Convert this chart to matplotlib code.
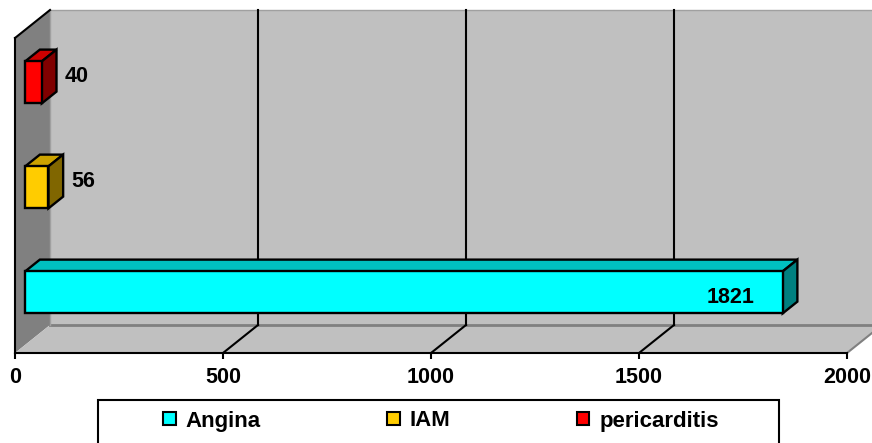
import matplotlib.pyplot as plt
from matplotlib.patches import Patch, Rectangle

plt.rcParams['font.family'] = ['Liberation Sans', 'DejaVu Sans']

categories = ['Angina', 'IAM', 'pericarditis']
values = [1821, 56, 40]
front_colors = ['#00FFFF', '#FFCC00', '#FF0000']
top_colors = ['#00C0C0', '#CCA300', '#CC0000']
side_colors = ['#008080', '#806600', '#800000']
xticks = [0, 500, 1000, 1500, 2000]

fig = plt.figure(figsize=(8.72, 4.43), dpi=100)
ax = fig.add_axes([15 / 872, 90 / 443, 832 / 872, 315 / 443])
ax.set_xlim(0, 2000)
ax.set_ylim(0, 3)
ax.patch.set_visible(False)

# pixel -> data scale, used for the fake 3d depth
xpx = 2000 / 832
ypx = 3 / 315
dx, dy = 35 * xpx, 28 * ypx
xmax = 2000

# walls and floor
ax.fill([0, dx, dx, 0], [0, dy, 3 + dy, 3], color='#808080', lw=0, clip_on=False, zorder=0)
ax.fill([dx, xmax + dx + 100, xmax + dx + 100, dx], [dy, dy, 3 + dy, 3 + dy],
        color='#C0C0C0', lw=0, clip_on=False, zorder=0)
ax.fill([0, xmax, xmax + dx, dx], [0, 0, dy, dy], color='#C0C0C0', lw=0, clip_on=False, zorder=0)
ax.plot([dx, xmax + dx + 100], [dy, dy], color='#808080', lw=2, clip_on=False, zorder=1)
ax.plot([dx, dx], [dy, 3 + dy], color='#A0A0A0', lw=1, clip_on=False, zorder=1)
ax.plot([dx, xmax + dx + 100], [3 + dy, 3 + dy], color='#A0A0A0', lw=1, clip_on=False, zorder=1)
ax.plot([0, dx], [3, 3 + dy], color='black', lw=1.5, clip_on=False, zorder=2)

# gridlines on back wall and floor
for v in xticks[1:]:
    ax.plot([v + dx, v + dx], [dy, 3 + dy], color='black', lw=1.5, clip_on=False, zorder=1)
    c = '#808080' if v == xmax else 'black'
    ax.plot([v, v + dx], [0, dy], color=c, lw=1.5, clip_on=False, zorder=1)

# bars
f0, f1 = 0.29, 0.71
h = 0.2
for i, (v, fc, tc, sc) in enumerate(zip(values, front_colors, top_colors, side_colors)):
    c = i + 0.5
    x0, y0 = f0 * dx, c - h + f0 * dy
    x1, y1 = v + f0 * dx, c + h + f0 * dy
    bx, by = (f1 - f0) * dx, (f1 - f0) * dy
    kw = dict(ec='black', lw=1.7, clip_on=False, zorder=3)
    ax.fill([x0, x1, x1 + bx, x0 + bx], [y1, y1, y1 + by, y1 + by], fc=tc, **kw)
    ax.fill([x1, x1 + bx, x1 + bx, x1], [y0, y0 + by, y1 + by, y1], fc=sc, **kw)
    ax.fill([x0, x1, x1, x0], [y0, y0, y1, y1], fc=fc, **kw)
    if v > 500:
        ax.text(x1 - 28 * xpx, c + f0 * dy - 0.05, str(v), ha='right', va='center',
                fontsize=15.5, fontweight='bold', zorder=4)
    else:
        ax.text(x1 + 35 * xpx, c + 0.5 * dy, str(v), ha='center', va='center',
                fontsize=15.5, fontweight='bold', zorder=4)

# axes
for s in ['top', 'right']:
    ax.spines[s].set_visible(False)
for s in ['bottom', 'left']:
    ax.spines[s].set_color('black')
    ax.spines[s].set_linewidth(1.5)
    ax.spines[s].set_zorder(2)
ax.set_yticks([])
ax.set_xticks(xticks)
ax.set_xticklabels([str(t) for t in xticks], fontsize=15.5, fontweight='bold')
ax.tick_params(axis='x', direction='out', length=4.5, width=1.5, pad=5.5)

# legend
frame = Rectangle((98 / 872, -0.05), 681 / 872, 1 - 400 / 443 + 0.05, transform=fig.transFigure,
                  fc='white', ec='black', lw=1.5, zorder=1)
fig.add_artist(frame)
handles = [Patch(fc=c, ec='black', lw=1.5) for c in front_colors]
leg = fig.legend(handles, categories, loc='center', bbox_to_anchor=(441 / 872, 1 - 421 / 443),
                 ncol=3, frameon=False, handlelength=0.55, handleheight=0.55,
                 handletextpad=0.45, columnspacing=5.7,
                 prop={'size': 16, 'weight': 'bold'})
leg.set_zorder(5)

fig.savefig('out.png', dpi=100)
